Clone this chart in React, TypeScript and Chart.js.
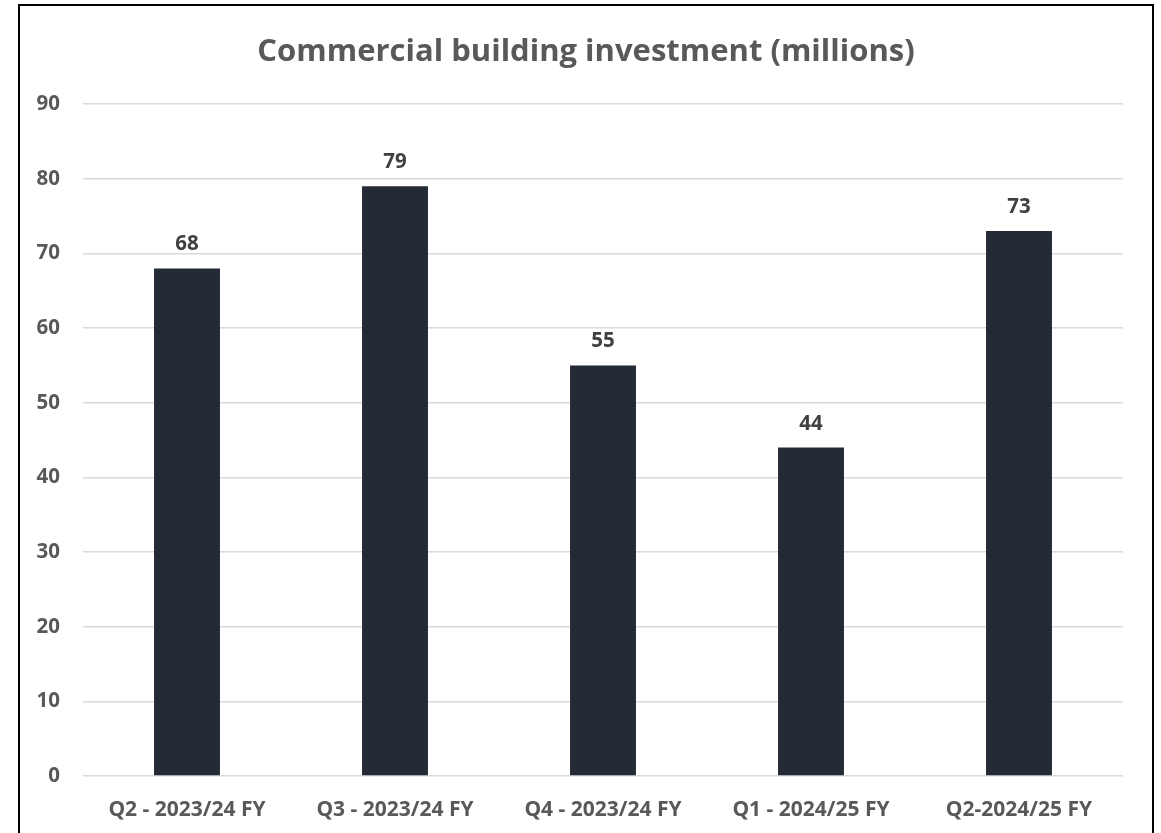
import React, { useEffect, useRef } from "react";
import { Chart, registerables } from "chart.js";

Chart.register(...registerables);

const categories = ["Q2 - 2023/24 FY", "Q3 - 2023/24 FY", "Q4 - 2023/24 FY", "Q1 - 2024/25 FY", "Q2-2024/25 FY"];
const values = [68, 79, 55, 44, 73];
const titleText = "Commercial building investment (millions)";

const FONT = "'Open Sans', Lato, sans-serif";

const dataLabelPlugin = {
  id: "dataLabels",
  afterDatasetsDraw(chart: any) {
    const ctx = chart.ctx;
    const meta = chart.getDatasetMeta(0);
    ctx.save();
    ctx.font = `bold 20.5px ${FONT}`;
    ctx.fillStyle = "#404040";
    ctx.textAlign = "center";
    ctx.textBaseline = "alphabetic";
    meta.data.forEach((bar: any, i: number) => {
      ctx.fillText(String(values[i]), bar.x, bar.y - 18);
    });
    ctx.restore();
  },
};

export default function App() {
  const ref = useRef<HTMLCanvasElement>(null);
  useEffect(() => {
    const chart = new Chart(ref.current!, {
      type: "bar",
      data: {
        labels: categories,
        datasets: [
          {
            data: values,
            backgroundColor: "#232a35",
            barPercentage: 0.634,
            categoryPercentage: 0.5,
          },
        ],
      },
      options: {
        responsive: false,
        animation: false,
        maintainAspectRatio: false,
        layout: { padding: { left: 20, right: 9, top: 0, bottom: 0 } },
        plugins: {
          legend: { display: false },
          tooltip: { enabled: false },
          title: {
            display: true,
            text: titleText,
            color: "#595959",
            font: { family: FONT, size: 31, weight: "bold" },
            padding: { top: 34, bottom: 33 },
          },
        },
        scales: {
          x: {
            grid: { display: false, drawTicks: false },
            border: { display: false },
            ticks: {
              color: "#595959",
              font: { family: FONT, size: 21, weight: "bold" },
              padding: 21,
              maxRotation: 0,
            },
            afterFit(scale: any) {
              scale.height = 57;
            },
          },
          y: {
            min: 0,
            max: 90,
            grid: { color: "#d9d9d9", lineWidth: 1.5, drawTicks: false },
            border: { display: false },
            ticks: {
              stepSize: 10,
              color: "#595959",
              font: { family: FONT, size: 20.5, weight: "bold" },
              padding: 23,
            },
            afterFit(scale: any) {
              scale.width = 63;
            },
          },
          yRight: {
            type: "linear",
            position: "right",
            display: true,
            grid: { display: false, drawTicks: false },
            border: { display: false },
            ticks: { display: false },
            afterFit(scale: any) {
              scale.width = 29;
            },
          },
        },
      },
      plugins: [dataLabelPlugin],
    });
    return () => chart.destroy();
  }, []);

  return (
    <div style={{ position: "absolute", left: 0, top: 0, width: 1161, height: 833, overflow: "hidden", background: "#fff" }}>
      <div
        style={{
          position: "absolute",
          left: 18,
          top: 4,
          width: 1136,
          height: 900,
          border: "2px solid #000",
          boxSizing: "border-box",
        }}
      />
      <canvas ref={ref} width={1161} height={833} style={{ position: "absolute", left: 0, top: 0 }} />
    </div>
  );
}
